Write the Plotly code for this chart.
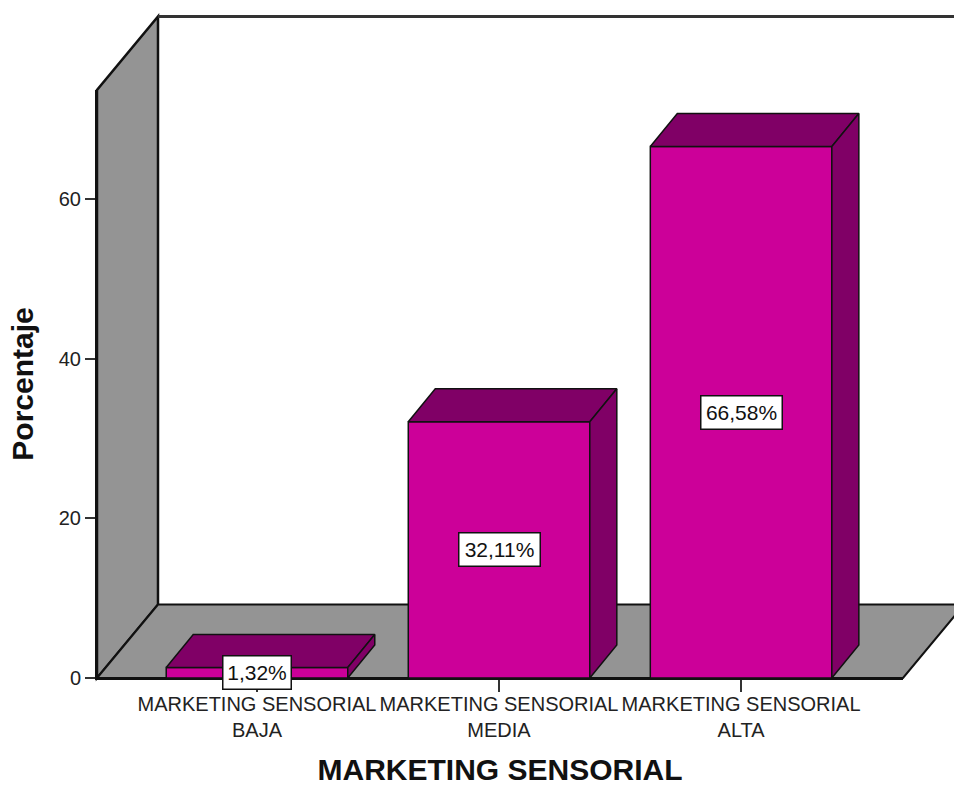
import plotly.graph_objects as go

categories = ["MARKETING SENSORIAL<br>BAJA", "MARKETING SENSORIAL<br>MEDIA", "MARKETING SENSORIAL<br>ALTA"]
values = [1.32, 32.11, 66.58]
y_ticks = [0, 20, 40, 60]
x_pos = [0, 1, 2]

PINK = "#CC0099"
DARK = "#800066"
GRAY = "#949494"
EDGE = "#111111"
FONT = "Liberation Sans, Arial, sans-serif"

BAR_W = 0.75
X_LO, X_HI = -0.661, 2.669
Y_LO, Y_HI = 0, 73.66
BAR_DX, BAR_DY = 0.1116, 4.13
WALL_DX, WALL_DY = 0.252, 9.2


def px(x):
    return (x - X_LO) / (X_HI - X_LO)


def py(y):
    return (y - Y_LO) / (Y_HI - Y_LO)


def path(points):
    return "M" + " L".join(f"{px(x):.5f},{py(y):.5f}" for x, y in points) + " Z"


fig = go.Figure()

# room: back wall frame, left wall, floor
far_x = X_HI + WALL_DX
back_x = X_LO + WALL_DX
shapes = [
    dict(type="path", xref="paper", yref="paper", layer="below",
         path=path([(X_LO, 0), (back_x, WALL_DY), (back_x, Y_HI + WALL_DY), (X_LO, Y_HI)]),
         fillcolor=GRAY, line=dict(color=EDGE, width=2.5)),
    dict(type="path", xref="paper", yref="paper", layer="below",
         path=path([(X_LO, 0), (back_x, WALL_DY), (far_x, WALL_DY), (X_HI, 0)]),
         fillcolor=GRAY, line=dict(color=EDGE, width=2)),
    dict(type="line", xref="paper", yref="paper", layer="below",
         x0=px(back_x), y0=py(Y_HI + WALL_DY), x1=px(far_x), y1=py(Y_HI + WALL_DY),
         line=dict(color="#333333", width=3)),
]

# front faces
fig.add_trace(go.Bar(x=x_pos, y=values, width=BAR_W, showlegend=False,
                     marker=dict(color=PINK, line=dict(color=EDGE, width=1.5))))

# top and side faces of each bar
for x, v in zip(x_pos, values):
    l, r = x - BAR_W / 2, x + BAR_W / 2
    fig.add_trace(go.Scatter(
        x=[l, l + BAR_DX, r + BAR_DX, r, l], y=[v, v + BAR_DY, v + BAR_DY, v, v],
        mode="lines", fill="toself", fillcolor=DARK, cliponaxis=False, showlegend=False,
        line=dict(color=EDGE, width=1.5), hoverinfo="skip"))
    fig.add_trace(go.Scatter(
        x=[r, r + BAR_DX, r + BAR_DX, r, r], y=[0, BAR_DY, v + BAR_DY, v, 0],
        mode="lines", fill="toself", fillcolor=DARK, cliponaxis=False, showlegend=False,
        line=dict(color=EDGE, width=1.5), hoverinfo="skip"))

annotations = [
    dict(x=x, y=v / 2, text=f"{v:.2f}".replace(".", ",") + "%", showarrow=False,
         width=76 if v >= 10 else 63, height=28,
         font=dict(family=FONT, size=21, color="#111111"), bgcolor="white",
         bordercolor=EDGE, borderwidth=1.5, borderpad=2)
    for x, v in zip(x_pos, values)
]

fig.update_layout(
    width=954, height=786, autosize=False,
    margin=dict(l=97, r=51, t=90, b=108),
    paper_bgcolor="white", plot_bgcolor="rgba(0,0,0,0)",
    font=dict(family=FONT, color="#111111"),
    shapes=shapes, annotations=annotations,
    xaxis=dict(range=[X_LO, X_HI], tickmode="array", tickvals=x_pos, ticktext=categories,
               tickangle=0, ticks="outside", ticklen=12, tickwidth=1.5, tickcolor="#333333",
               ticklabelstandoff=-5, automargin=False,
               tickfont=dict(size=20, family=FONT, color="#222222"), showgrid=False, zeroline=False,
               showline=True, linecolor=EDGE, linewidth=2,
               title=dict(text="<b>MARKETING SENSORIAL</b>", standoff=23,
                          font=dict(size=30, family=FONT, color="#111111"))),
    yaxis=dict(range=[Y_LO, Y_HI], tickmode="array", tickvals=y_ticks,
               ticks="outside", ticklen=10, tickwidth=1.5, tickcolor="#333333", automargin=False,
               tickfont=dict(size=20, family=FONT, color="#222222"), showgrid=False, zeroline=False,
               showline=True, linecolor=EDGE, linewidth=2,
               title=dict(text="<b>Porcentaje</b>", standoff=16,
                          font=dict(size=30, family=FONT, color="#111111"))),
)

fig.write_html("out.html", default_width="954px", default_height="786px",
               config={"displayModeBar": False},
               post_script="document.body.style.margin='0';")
